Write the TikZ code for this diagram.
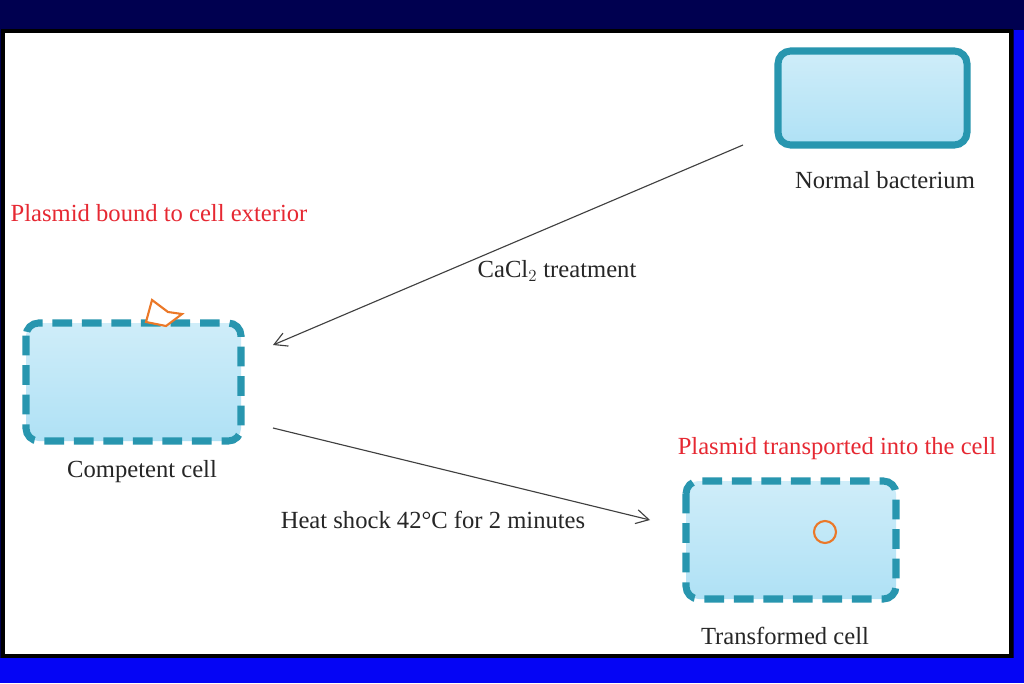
\documentclass[tikz,border=0pt]{standalone}
\usepackage{fontspec}
\setmainfont{Liberation Serif}
\usetikzlibrary{arrows.meta}
\definecolor{navy}{RGB}{0,0,80}
\definecolor{brightblue}{RGB}{5,5,245}
\definecolor{teal}{RGB}{40,150,175}
\definecolor{cellfill}{RGB}{175,225,245}
\definecolor{plasred}{RGB}{230,40,50}
\definecolor{plasorange}{RGB}{235,120,40}
\tikzset{
cell/.style={rounded corners=9pt, top color=cellfill!60, bottom color=cellfill,
  line width=5pt},
solidcell/.style={cell, draw=teal},
dashcell/.style={cell, draw=teal, dash pattern=on 14pt off 7pt},
lbl/.style={font=\fontsize{17.5}{20}\selectfont, text=black!85},
redlbl/.style={font=\fontsize{17.5}{20}\selectfont, text=plasred},
}
\begin{document}
\begin{tikzpicture}[x=0.025cm,y=-0.025cm]
\useasboundingbox (0,0) rectangle (1024,683);
\fill[navy] (0,0) rectangle (1024,683);
\fill[brightblue] (0,658) rectangle (1024,683);
\fill[brightblue] (1014,30) rectangle (1024,683);
\draw[line width=3pt, fill=white] (3,31) rectangle (1011,656);
% cells
\draw[solidcell] (778,51) rectangle (967,145);
\draw[line width=5pt, white, rounded corners=9pt] (26,323) rectangle (241,441);
\draw[dashcell] (26,323) rectangle (241,441);
\draw[line width=5pt, white, rounded corners=9pt] (686,481) rectangle (896,599);
\draw[dashcell] (686,481) rectangle (896,599);
% plasmids
\draw[plasorange, line width=1.5pt, fill=white] (146,322) -- (152,300) -- (168,312) -- (182,314) -- (166,326) -- cycle;
\draw[plasorange, line width=1.5pt] (825,532) circle (11);
% labels
\node[lbl] (nb) at (885,180) {Normal bacterium};
\node[redlbl] (pb) at (159,213) {Plasmid bound to cell\ exterior};
\node[lbl] (cc) at (142,472) {Competent cell};
\node[redlbl] (pt) at (837,449) {Plasmid transported into the cell};
\node[lbl] (tc) at (785,636) {Transformed cell};
\node[lbl] (ca) at (557,271) {CaCl$_2$ treatment};
\node[lbl] (hs) at (433,520) {Heat shock 42°C for 2 minutes};
\coordinate (a1) at (743,145);
\coordinate (a2) at (273,345);
\coordinate (b1) at (273,428);
\coordinate (b2) at (650,520);
\draw[-{Straight Barb[length=9pt,width=10pt]}, black!75, line width=0.8pt] (a1) -- (a2);
\draw[-{Straight Barb[length=9pt,width=10pt]}, black!75, line width=0.8pt] (b1) -- (b2);
\end{tikzpicture}
\end{document}
